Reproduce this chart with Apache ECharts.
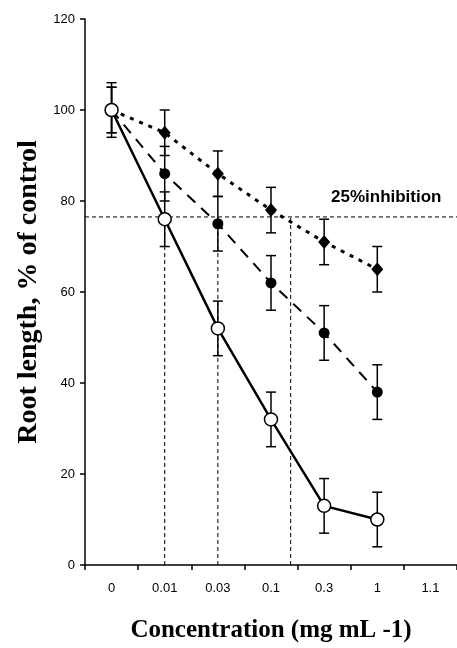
<!DOCTYPE html>
<html>
<head>
<meta charset="utf-8">
<script src="https://cdn.jsdelivr.net/npm/echarts@6/dist/echarts.min.js"></script>
<style>
html,body{margin:0;padding:0;background:#fff;}
#chart{width:457px;height:648px;}
</style>
</head>
<body>
<div id="chart"></div>
<script>
// ---- data ----
const categories = ['0', '0.01', '0.03', '0.1', '0.3', '1', '1.1'];
const openValues = [100, 76, 52, 32, 13, 10];
const openErr = [6, 6, 6, 6, 6, 6];
const filledValues = [100, 86, 75, 62, 51, 38];
const filledErr = [5, 6, 6, 6, 6, 6];
const diamondValues = [100, 95, 86, 78, 71, 65];
const diamondErr = [5, 5, 5, 5, 5, 5];
const yMin = 0, yMax = 120, yStep = 20;
const inhibitionLevel = 76.5;
const inhibitionX = [1, 2, 3.37];
const inhibitionText = '25%inhibition';
const xTitle = 'Concentration (mg mL -1)';
const yTitle = 'Root length, % of control';

const chart = echarts.init(document.getElementById('chart'));

function errData(vals, errs) {
  return vals.map((v, i) => [i, v - errs[i], v + errs[i]]);
}
function errorSeries(vals, errs, z) {
  return {
    type: 'custom',
    xAxisIndex: 0,
    z: z,
    data: errData(vals, errs),
    encode: { x: 0, y: [1, 2] },
    renderItem: function (params, api) {
      const x = api.value(0);
      const lo = api.coord([x, api.value(1)]);
      const hi = api.coord([x, api.value(2)]);
      const w = 5;
      const st = { stroke: '#000', lineWidth: 1.5, fill: null };
      return {
        type: 'group',
        children: [
          { type: 'line', shape: { x1: lo[0], y1: lo[1], x2: hi[0], y2: hi[1] }, style: st },
          { type: 'line', shape: { x1: lo[0] - w, y1: lo[1], x2: lo[0] + w, y2: lo[1] }, style: st },
          { type: 'line', shape: { x1: hi[0] - w, y1: hi[1], x2: hi[0] + w, y2: hi[1] }, style: st }
        ]
      };
    },
    silent: true
  };
}

const refSeries = [];
refSeries.push({
  type: 'line', xAxisIndex: 1, symbol: 'none', silent: true, z: 1,
  data: [[-0.5, inhibitionLevel], [6.5, inhibitionLevel]],
  lineStyle: { color: '#000', width: 1, type: [4, 3] }
});
inhibitionX.forEach(function (x) {
  refSeries.push({
    type: 'line', xAxisIndex: 1, symbol: 'none', silent: true, z: 1,
    data: [[x, yMin], [x, inhibitionLevel]],
    lineStyle: { color: '#000', width: 1, type: [4, 3] }
  });
});

const option = {
  animation: false,
  backgroundColor: '#fff',
  grid: { left: 85, right: -10, top: 19, bottom: 83, containLabel: false },
  xAxis: [
    {
      type: 'category',
      data: categories,
      boundaryGap: true,
      name: xTitle,
      nameLocation: 'middle',
      nameGap: 53,
      nameTextStyle: { fontFamily: 'Liberation Serif', fontWeight: 'bold', fontSize: 25, color: '#000' },
      axisLine: { onZero: false, lineStyle: { color: '#000', width: 1.5 } },
      axisTick: { show: true, alignWithLabel: false, length: 5, inside: false, lineStyle: { color: '#000', width: 1.5 } },
      axisLabel: { color: '#000', fontFamily: 'Liberation Sans', fontSize: 13, margin: 17 },
      splitLine: { show: false }
    },
    {
      type: 'value', min: -0.5, max: 6.5, show: false
    }
  ],
  yAxis: {
    type: 'value',
    min: yMin, max: yMax, interval: yStep,
    name: yTitle,
    nameLocation: 'middle',
    nameGap: 42,
    nameTextStyle: { fontFamily: 'Liberation Serif', fontWeight: 'bold', fontSize: 28, color: '#000' },
    axisLine: { show: true, onZero: false, lineStyle: { color: '#000', width: 1.5 } },
    axisTick: { show: true, length: 5, lineStyle: { color: '#000', width: 1.5 } },
    axisLabel: { color: '#000', fontFamily: 'Liberation Sans', fontSize: 13, margin: 10 },
    splitLine: { show: false }
  },
  graphic: [
    {
      type: 'text', left: 331, top: 189, z: 10,
      style: { text: inhibitionText, fontFamily: 'Liberation Sans', fontWeight: 'bold', fontSize: 17, fill: '#000' }
    }
  ],
  series: refSeries.concat([
    errorSeries(diamondValues, diamondErr, 3),
    errorSeries(filledValues, filledErr, 3),
    errorSeries(openValues, openErr, 3),
    {
      type: 'line', data: diamondValues, z: 4,
      symbol: 'diamond', symbolSize: [12, 14],
      itemStyle: { color: '#000' },
      lineStyle: { color: '#000', width: 3, type: [4, 6] }
    },
    {
      type: 'line', data: filledValues, z: 5,
      symbol: 'circle', symbolSize: 11,
      itemStyle: { color: '#000' },
      lineStyle: { color: '#000', width: 2, type: [11, 8] }
    },
    {
      type: 'line', data: openValues, z: 6,
      symbol: 'circle', symbolSize: 13,
      itemStyle: { color: '#fff', borderColor: '#000', borderWidth: 1.5 },
      lineStyle: { color: '#000', width: 2.5 }
    }
  ])
};
chart.setOption(option);
</script>
</body>
</html>
